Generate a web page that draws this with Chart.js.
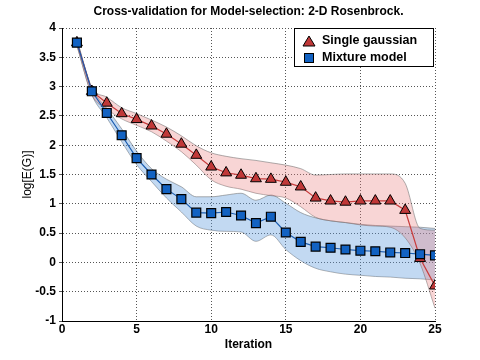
<!DOCTYPE html>
<html>
<head>
<meta charset="utf-8">
<script src="https://cdn.jsdelivr.net/npm/chart.js@4/dist/chart.umd.min.js"></script>
<style>
  html,body{margin:0;padding:0;background:#fff;}
  #wrap{width:480px;height:360px;}
</style>
</head>
<body>
<div id="wrap"><canvas id="c" width="480" height="360"></canvas></div>
<script>
const chartTitle = "Cross-validation for Model-selection: 2-D Rosenbrock.";
const xTitle = "Iteration";
const yTitle = "log[E(G)]";
const seriesNames = ["Single gaussian", "Mixture model"];
const iterations = [1,2,3,4,5,6,7,8,9,10,11,12,13,14,15,16,17,18,19,20,21,22,23,24,25];
const singleGaussian = [3.75,2.92,2.72,2.54,2.44,2.33,2.19,2.02,1.83,1.63,1.53,1.49,1.43,1.42,1.37,1.29,1.10,1.05,1.03,1.05,1.05,1.05,0.89,0.07,-0.40];
const singleUpper = [3.80,2.98,2.82,2.64,2.54,2.43,2.31,2.16,1.99,1.87,1.81,1.77,1.74,1.70,1.66,1.60,1.49,1.50,1.51,1.51,1.51,1.51,1.35,0.58,0.55];
const singleLower = [3.70,2.86,2.62,2.45,2.34,2.23,2.07,1.89,1.66,1.41,1.30,1.25,1.18,1.14,1.10,0.95,0.77,0.71,0.68,0.64,0.62,0.60,0.42,-0.02,-0.78];
const mixtureModel = [3.75,2.92,2.55,2.17,1.78,1.50,1.25,1.08,0.85,0.84,0.86,0.80,0.67,0.78,0.51,0.35,0.27,0.25,0.22,0.20,0.19,0.17,0.16,0.14,0.12];
const mixtureUpper = [3.80,2.98,2.63,2.28,1.90,1.60,1.42,1.29,1.12,1.12,1.15,1.18,1.06,1.15,1.01,0.85,0.76,0.71,0.68,0.65,0.63,0.62,0.61,0.60,0.58];
const mixtureLower = [3.70,2.86,2.47,2.06,1.67,1.38,1.10,0.86,0.62,0.55,0.53,0.52,0.36,0.47,0.22,0.03,-0.10,-0.16,-0.20,-0.22,-0.24,-0.25,-0.27,-0.28,-0.30];

const pts = arr => iterations.map((x, i) => ({x: x, y: arr[i]}));

const FONT = "'Liberation Sans', Arial, sans-serif";

const overlayPlugin = {
  id: 'overlay',
  afterDraw(chart) {
    const ctx = chart.ctx;
    const a = chart.chartArea;
    ctx.save();
    ctx.fillStyle = '#000';
    ctx.font = 'bold 12px ' + FONT;
    ctx.textAlign = 'center';
    ctx.textBaseline = 'middle';
    ctx.fillText(chartTitle, (a.left + a.right) / 2, 12);
    ctx.fillText(xTitle, (a.left + a.right) / 2, 345);
    ctx.save();
    ctx.translate(28, (a.top + a.bottom) / 2);
    ctx.rotate(-Math.PI / 2);
    ctx.font = '12px ' + FONT;
    ctx.fillText(yTitle, 0, 0);
    ctx.restore();
    // legend
    const lx = 294, ly = a.top, lw = a.right - 294 - 2, lh = 38;
    ctx.fillStyle = '#fff';
    ctx.fillRect(lx, ly, lw, lh);
    ctx.strokeStyle = '#000';
    ctx.lineWidth = 1;
    ctx.strokeRect(lx + 0.5, ly + 0.5, lw, lh);
    ctx.fillStyle = '#c03838';
    ctx.beginPath();
    ctx.moveTo(309, 36); ctx.lineTo(315, 46); ctx.lineTo(303, 46); ctx.closePath();
    ctx.fill(); ctx.stroke();
    ctx.fillStyle = '#1262c2';
    ctx.fillRect(304.5, 53.5, 9, 9);
    ctx.strokeRect(304.5, 53.5, 9, 9);
    ctx.fillStyle = '#000';
    ctx.font = 'bold 12.5px ' + FONT;
    ctx.textAlign = 'left';
    ctx.fillText(seriesNames[0], 322, 41);
    ctx.fillText(seriesNames[1], 322, 58);
    ctx.restore();
  }
};

const bandBorder = 'rgba(110,110,110,0.55)';
const bandCommon = { borderColor: bandBorder, borderWidth: 1, pointRadius: 0, cubicInterpolationMode: 'monotone' };

new Chart(document.getElementById('c'), {
  type: 'line',
  data: {
    datasets: [
      Object.assign({ label: 'sgU', data: pts(singleUpper), backgroundColor: 'rgba(232,125,125,0.32)', fill: '+1', order: 5 }, bandCommon),
      Object.assign({ label: 'sgL', data: pts(singleLower), fill: false, order: 5 }, bandCommon),
      Object.assign({ label: 'mmU', data: pts(mixtureUpper), backgroundColor: 'rgba(95,155,220,0.38)', fill: '+1', order: 6 }, bandCommon),
      Object.assign({ label: 'mmL', data: pts(mixtureLower), fill: false, order: 6 }, bandCommon),
      { label: seriesNames[0], data: pts(singleGaussian), borderColor: '#c83c3c', borderWidth: 1.2,
        pointStyle: 'triangle', pointRadius: 6.3, pointBackgroundColor: '#c03838', pointBorderColor: '#000',
        pointBorderWidth: 1, fill: false, tension: 0, order: 2 },
      { label: seriesNames[1], data: pts(mixtureModel), borderColor: '#1a5cb0', borderWidth: 1.2,
        pointStyle: 'rect', pointRadius: 6.3, pointBackgroundColor: '#1262c2', pointBorderColor: '#000',
        pointBorderWidth: 1.2, fill: false, tension: 0, order: 1 }
    ]
  },
  options: {
    responsive: false,
    animation: false,
    layout: { padding: { top: 28, right: 45, left: 0, bottom: 0 } },
    plugins: { legend: { display: false }, title: { display: false }, tooltip: { enabled: false } },
    scales: {
      x: {
        type: 'linear', min: 0, max: 25,
        ticks: { stepSize: 5, color: '#000', font: { family: FONT, size: 12, weight: 'bold' }, padding: 1, maxRotation: 0 },
        grid: { color: '#555', lineWidth: 1, drawTicks: false },
        border: { display: true, color: '#000', width: 1, dash: [1, 2] },
        afterFit(s) { s.height = 39; }
      },
      y: {
        min: -1, max: 4,
        ticks: { stepSize: 0.5, color: '#000', font: { family: FONT, size: 12, weight: 'bold' }, padding: 3,
          callback: v => String(v) },
        grid: { color: '#555', lineWidth: 1, tickLength: 3 },
        border: { display: true, color: '#000', width: 1, dash: [1, 2] },
        afterFit(s) { s.width = 62; }
      }
    }
  },
  plugins: [overlayPlugin]
});
</script>
</body>
</html>
